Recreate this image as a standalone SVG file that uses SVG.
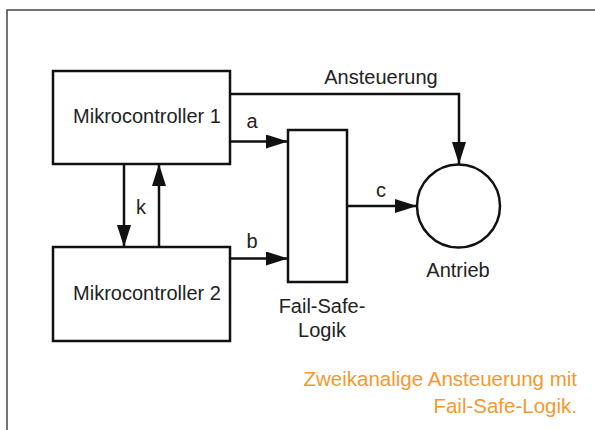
<svg xmlns="http://www.w3.org/2000/svg" width="595" height="430" viewBox="0 0 595 430">
<style>
.box{fill:#fff;stroke:#111;stroke-width:2.5}
.ln{fill:none;stroke:#111;stroke-width:2.5}
.t{font-family:"Liberation Sans",Arial,sans-serif;font-size:20px;fill:#222}
.cap{font-family:"Liberation Sans",Arial,sans-serif;font-size:20.5px;fill:#F39A2E;text-anchor:end}
</style>
<defs>
<marker id="ah" viewBox="0 0 22 14" refX="22" refY="7" markerWidth="22" markerHeight="14" markerUnits="userSpaceOnUse" orient="auto">
<path d="M0,0 L22,7 L0,14 Z" fill="#111"/>
</marker>
</defs>
<rect width="595" height="430" fill="#fff"/>
<path d="M7,430 V10 H595" fill="none" stroke="#444" stroke-width="1.5"/>
<g id="connectors">
<path class="ln" d="M230,94 H459 V164" marker-end="url(#ah)"/>
<path class="ln" d="M230,141.5 H288" marker-end="url(#ah)"/>
<path class="ln" d="M230,258.5 H288" marker-end="url(#ah)"/>
<path class="ln" d="M347,206 H417" marker-end="url(#ah)"/>
<path class="ln" d="M124,164 V247" marker-end="url(#ah)"/>
<path class="ln" d="M159,247 V164" marker-end="url(#ah)"/>
<text class="t" x="381" y="84" text-anchor="middle">Ansteuerung</text>
<text class="t" x="252" y="128" text-anchor="middle">a</text>
<text class="t" x="252" y="248" text-anchor="middle">b</text>
<text class="t" x="381" y="197" text-anchor="middle">c</text>
<text class="t" x="141" y="214" text-anchor="middle">k</text>
</g>
<g id="mc1">
<rect class="box" x="53" y="71" width="177" height="93"/>
<text class="t" x="147" y="123" text-anchor="middle">Mikrocontroller 1</text>
</g>
<g id="mc2">
<rect class="box" x="53" y="247" width="177" height="94"/>
<text class="t" x="147" y="300" text-anchor="middle">Mikrocontroller 2</text>
</g>
<g id="failsafe">
<rect class="box" x="288" y="130" width="59" height="152"/>
<text class="t" x="322" y="313" text-anchor="middle">Fail-Safe-</text>
<text class="t" x="322" y="337" text-anchor="middle">Logik</text>
</g>
<g id="antrieb">
<circle class="box" cx="458.5" cy="206" r="41.5"/>
<text class="t" x="458" y="277" text-anchor="middle">Antrieb</text>
</g>
<g id="caption">
<text class="cap" x="577" y="386">Zweikanalige Ansteuerung mit</text>
<text class="cap" x="577" y="413">Fail-Safe-Logik.</text>
</g>
</svg>
